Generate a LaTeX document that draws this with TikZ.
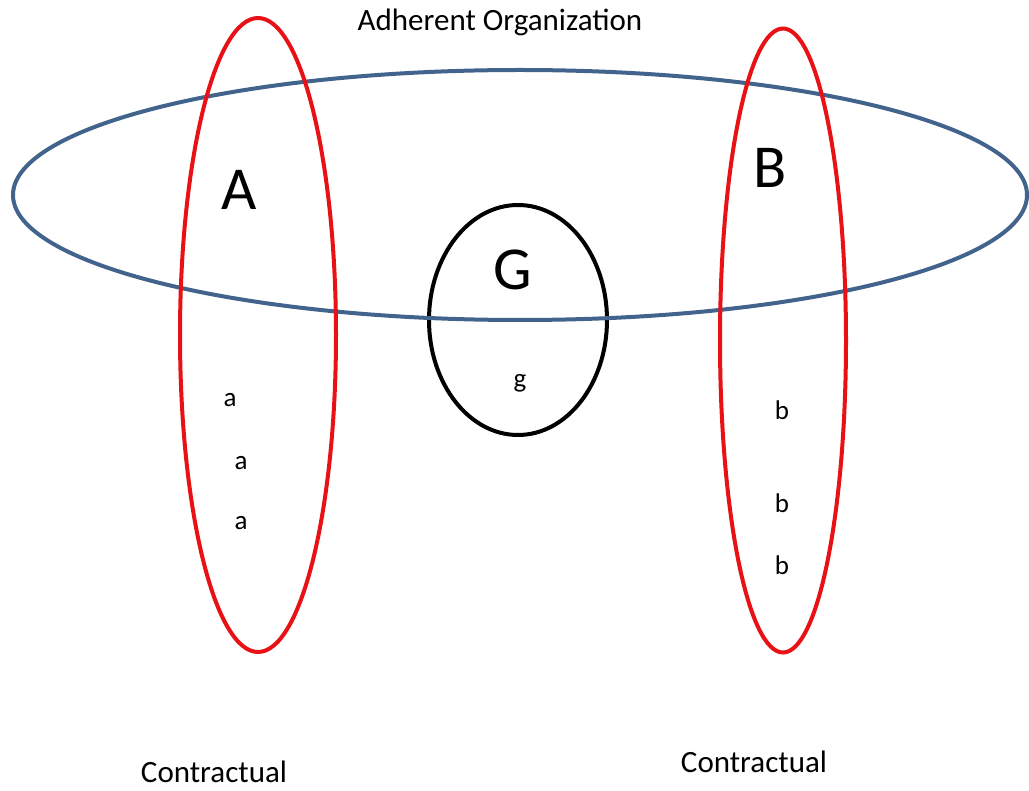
\documentclass[tikz,border=0pt]{standalone}
\usepackage{fontspec}
\setmainfont{Carlito}
\usetikzlibrary{shapes.geometric}
\definecolor{orgblue}{RGB}{66,100,140}
\definecolor{setred}{RGB}{232,18,22}
\tikzset{
  ring/.style={ellipse, draw, inner sep=0pt, line width=4pt},
  bigletter/.style={inner sep=0pt, font=\fontsize{61}{61}\selectfont},
  smallletter/.style={inner sep=0pt, font=\fontsize{27}{27}\selectfont},
  caption/.style={inner sep=0pt, font=\fontsize{31}{31}\selectfont}
}
\begin{document}
\begin{tikzpicture}[x=1pt,y=-1pt]
\useasboundingbox (0,0) rectangle (1029,791);
\node[ring, black, minimum width=178pt, minimum height=230pt] (G) at (518,320) {};
\node[ring, orgblue, minimum width=1014pt, minimum height=250pt] (org) at (520,195) {};
\node[ring, setred, minimum width=156pt, minimum height=634pt] (A) at (258,335) {};
\node[ring, setred, minimum width=126pt, minimum height=624pt] (B) at (783,340.5) {};
\node[caption] (orgl) at (500,22) {Adherent Organization};
\node[bigletter] (Al) at (239,190) {A};
\node[bigletter] (Bl) at (770,168) {B};
\node[bigletter] (Gl) at (513,270) {G};
\node[smallletter, anchor=base] (g1) at (520,388) {g};
\node[smallletter] (a1) at (230,400) {a};
\node[smallletter] (a2) at (241,463) {a};
\node[smallletter] (a3) at (241,523) {a};
\node[smallletter] (b1) at (782,410) {b};
\node[smallletter] (b2) at (782,503) {b};
\node[smallletter] (b3) at (782,565) {b};
\node[caption] (cl) at (214,772) {Contractual};
\node[caption] (cr) at (754,762) {Contractual};
\end{tikzpicture}
\end{document}
